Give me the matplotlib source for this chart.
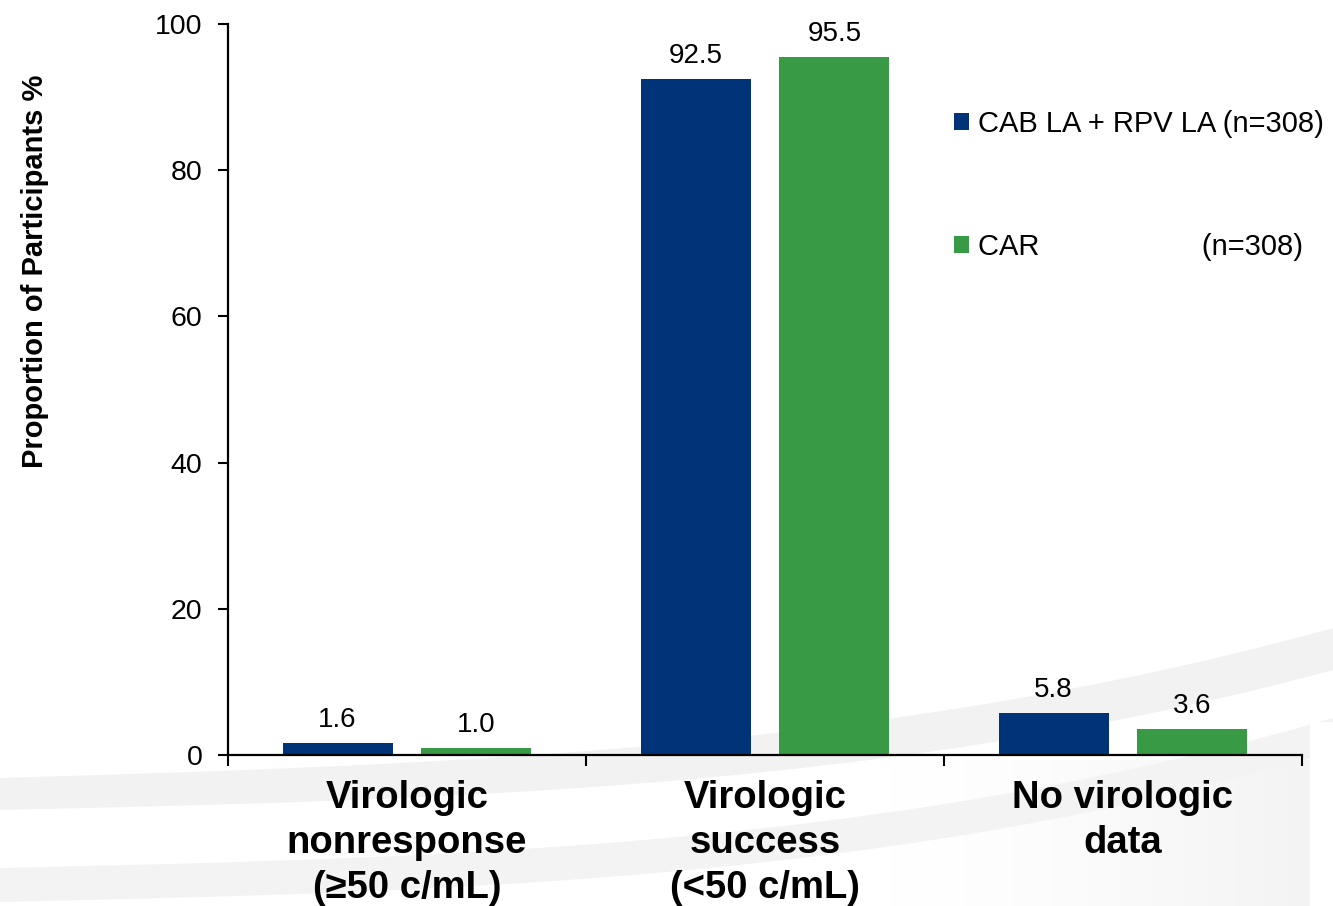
import numpy as np
import matplotlib
matplotlib.use("Agg")
import matplotlib.pyplot as plt

plt.rcParams['font.family'] = ['Liberation Sans', 'DejaVu Sans']

categories = ["Virologic\nnonresponse\n(\u226550 c/mL)",
              "Virologic\nsuccess\n(<50 c/mL)",
              "No virologic\ndata"]
cab_rpv = [1.6, 92.5, 5.8]
car = [1.0, 95.5, 3.6]
series_labels = ["CAB LA + RPV LA (n=308)",
                 "CAR                    (n=308)"]
y_ticks = [0, 20, 40, 60, 80, 100]

BLUE = "#003378"
GREEN = "#389A44"

W, H = 1333, 906
fig = plt.figure(figsize=(W / 100, H / 100), dpi=100)

# soft grey swooshes of the slide background
bg = fig.add_axes([0, 0, 1, 1], zorder=-1)
bg.set_xlim(0, W)
bg.set_ylim(H, 0)
bg.axis("off")
xs = np.linspace(0, W, 200)
t = xs / W
shade = np.linspace(0, 1, 256)[None, :] ** 1.5
grey = np.ones((1, 256, 4))
grey[..., :3] = 0.955
grey[..., 3] = shade
bg.imshow(grey, extent=(880, 1310, 906, 760), aspect="auto", interpolation="bilinear")
top1 = 778 - 40 * t - 110 * t ** 3
bg.fill_between(xs, top1, top1 + 32 + 10 * t, color="#f2f2f2", lw=0)
top2 = 868 - 30 * t - 120 * t ** 3
bg.fill_between(xs, top2, top2 + 34, color="#f3f3f3", lw=0)
bg.fill_between([1310, W], [722, 722], [906, 906], color="white", lw=0)
bg.set_xlim(0, W)
bg.set_ylim(H, 0)

ax = fig.add_axes([228 / W, 1 - 755 / H, (1302 - 228) / W, (755 - 24) / H])
ax.patch.set_alpha(0)

x = np.arange(len(categories))
width = 0.307
offset = 0.194
b1 = ax.bar(x - offset, cab_rpv, width, color=BLUE, label=series_labels[0], zorder=2)
b2 = ax.bar(x + offset, car, width, color=GREEN, label=series_labels[1], zorder=2)

for bars, vals in ((b1, cab_rpv), (b2, car)):
    for rect, v in zip(bars, vals):
        ax.annotate(f"{v:.1f}", (rect.get_x() + rect.get_width() / 2, v),
                    xytext=(0, 11.5), textcoords="offset points",
                    ha="center", va="baseline", fontsize=20)

ax.set_xlim(-0.5, 2.5)
ax.set_ylim(0, 100)
ax.set_yticks(y_ticks)
ax.tick_params(axis="y", direction="out", length=7.5, width=1.5,
               labelsize=20.5, pad=11)
ax.set_xticks(x)
ax.set_xticklabels(categories, fontsize=27.5, fontweight="bold", linespacing=1.32)
ax.set_xticks([-0.5, 0.5, 1.5, 2.5], minor=True)
ax.tick_params(axis="x", which="major", length=0, pad=18)
ax.tick_params(axis="x", which="minor", direction="out", length=8, width=1.5)

for s in ("top", "right"):
    ax.spines[s].set_visible(False)
for s in ("left", "bottom"):
    ax.spines[s].set_linewidth(1.6)

fig.text(35 / W, 1 - 271.5 / H, "Proportion of Participants %", rotation=90,
         ha="center", va="center", fontsize=21, fontweight="bold")

leg = ax.legend(loc="upper left", bbox_to_anchor=(954 / W, 1 - 110 / H),
                bbox_transform=fig.transFigure, frameon=False,
                fontsize=21, handlelength=0.52, handleheight=0.52,
                handletextpad=0.3, labelspacing=3.25, borderpad=0,
                borderaxespad=0)

fig.savefig("out.png", dpi=100)
